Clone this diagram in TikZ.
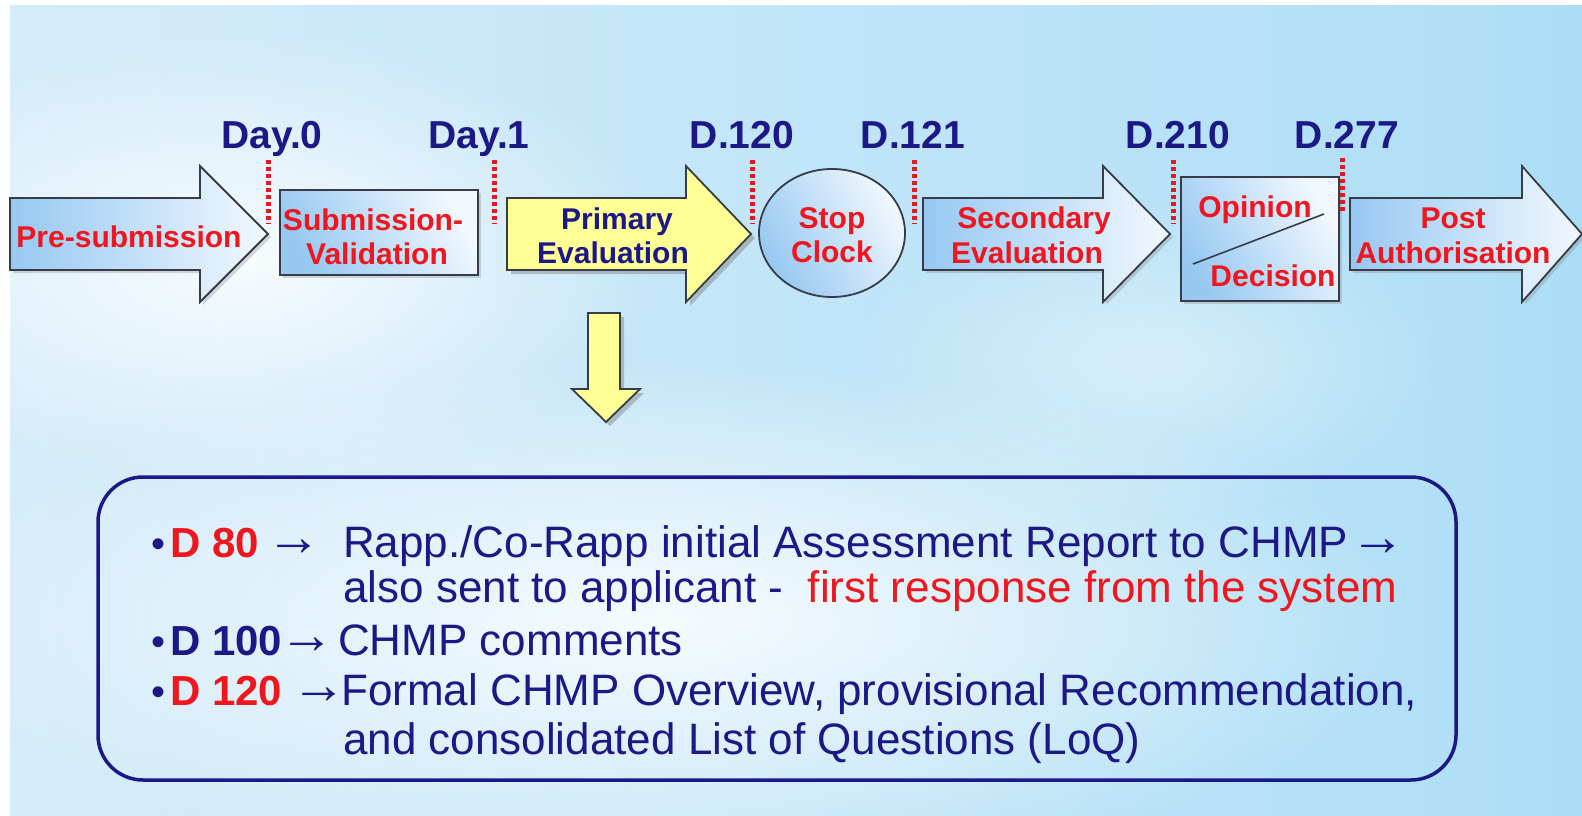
\documentclass[tikz,border=0pt]{standalone}
\usepackage{fontspec}
\setmainfont{Liberation Sans}
\usetikzlibrary{shadows,fadings,shapes.geometric}

\definecolor{navy}{RGB}{28,24,135}
\definecolor{alert}{RGB}{240,22,30}
\definecolor{dotred}{RGB}{230,25,35}
\definecolor{edge}{RGB}{55,60,70}
\definecolor{paleblue}{RGB}{150,200,242}
\definecolor{whiteblue}{RGB}{242,248,254}
\definecolor{lemon}{RGB}{255,255,150}
\definecolor{bgA}{RGB}{232,243,251}
\definecolor{bgB}{RGB}{205,233,249}
\definecolor{bgC}{RGB}{176,223,246}
\definecolor{bgD}{RGB}{115,202,238}

\pgfdeclarehorizontalshading{skyshade}{100bp}{color(0bp)=(bgA); color(35bp)=(bgB); color(72bp)=(bgC); color(100bp)=(bgD)}
\tikzfading[name=haze, inner color=transparent!15, outer color=transparent!100]

% arrow-shaped phase: body from #1 to #2, head from #2 to tip #3
\newcommand\phasearrow[4]{%
  \path[#4] (#1,198) -- (#2,198) -- (#2,166) -- (#3,234) -- (#2,302) -- (#2,270) -- (#1,270) -- cycle;}
% large text arrow used in the bullet list, boxed to its visible width
\newcommand\bigto{\raisebox{2pt}{\hbox to 36pt{\hss\fontsize{55}{60}\selectfont →\hss}}}

\begin{document}
\begin{tikzpicture}[x=1pt,y=-1pt,
  shade phase/.style={draw=edge, line width=1.8pt, line join=miter,
    left color=paleblue, right color=whiteblue,
    drop shadow={shadow xshift=3pt, shadow yshift=-3pt, opacity=0.3}},
  yellow phase/.style={draw=edge, line width=1.8pt, line join=miter, fill=lemon,
    drop shadow={shadow xshift=4pt, shadow yshift=-4pt, opacity=0.45}},
  phasetxt/.style={font=\fontsize{30}{34}\selectfont\bfseries, text=alert, anchor=base, inner sep=0pt},
  navytxt/.style={phasetxt, text=navy},
  daylbl/.style={font=\fontsize{39}{40}\selectfont\bfseries, text=navy, anchor=base, inner sep=0pt},
  tick/.style={dotred, line width=5pt, dash pattern=on 4pt off 3pt},
  body/.style={font=\fontsize{44}{50}\selectfont, text=navy, anchor=base west, inner sep=0pt},
  tag/.style={font=\fontsize{42}{44}\selectfont\bfseries, anchor=base west, inner sep=0pt},
  dot/.style={font=\fontsize{40}{44}\selectfont, text=navy, anchor=base west, inner sep=0pt},
  pointer/.style={text=navy, anchor=base east, inner sep=0pt}
]
\useasboundingbox (0,0) rectangle (1582,816);

% sky background
\fill[white] (0,0) rectangle (1582,816);
\shade[shading=skyshade] (10,6) rectangle (1582,816);
\fill[white, path fading=haze] (660,620) ellipse [x radius=760, y radius=260];
\fill[white, path fading=haze] (240,260) ellipse [x radius=420, y radius=230];
\fill[white, path fading=haze, opacity=0.5] (1150,360) ellipse [x radius=300, y radius=160];

% day markers
\node[daylbl] (d0)   at (272,148)  {Day.0};
\node[daylbl] (d1)   at (479,148)  {Day.1};
\node[daylbl] (d120) at (742,148)  {D.120};
\node[daylbl] (d121) at (913,148)  {D.121};
\node[daylbl] (d210) at (1178,148) {D.210};
\node[daylbl] (d277) at (1347,148) {D.277};

% phases
\phasearrow{10}{200}{268}{shade phase}
\node[draw=edge, line width=1.8pt, left color=paleblue, right color=whiteblue,
  shading angle=120, minimum width=198pt, minimum height=85pt,
  drop shadow={shadow xshift=3pt, shadow yshift=-3pt, opacity=0.3}] (subbox) at (379,232.5) {};
\phasearrow{507}{686}{751}{yellow phase}
\node[ellipse, draw=edge, line width=1.8pt, left color=paleblue, right color=whiteblue,
  shading angle=120, minimum width=146pt, minimum height=128pt, inner sep=0pt] (stop) at (832,233) {};
\phasearrow{923}{1103}{1170}{shade phase}
\node[draw=edge, line width=1.8pt, left color=paleblue, right color=whiteblue,
  shading angle=120, minimum width=158pt, minimum height=124pt,
  drop shadow={shadow xshift=3pt, shadow yshift=-3pt, opacity=0.3}] (opbox) at (1260,239) {};
\draw[edge, line width=1.6pt] (1193,264) -- (1324,214);
\phasearrow{1350}{1522}{1582}{shade phase}

% dotted day ticks
\draw[tick] (268,160) -- (268,224);
\draw[tick] (494,160) -- (494,224);
\draw[tick] (752,160) -- (752,224);
\draw[tick] (914,160) -- (914,224);
\draw[tick] (1173,160) -- (1173,224);
\draw[tick] (1342,158) -- (1342,212);

% phase captions
\node[phasetxt] (pre)   at (129,247)  {Pre-submission};
\node[phasetxt] (sub1)  at (373,230)  {Submission-};
\node[phasetxt] (sub2)  at (377,264)  {Validation};
\node[navytxt]  (pri1)  at (617,229)  {Primary};
\node[navytxt]  (pri2)  at (613,263)  {Evaluation};
\node[phasetxt] (stop1) at (832,228)  {Stop};
\node[phasetxt] (stop2) at (832,262)  {Clock};
\node[phasetxt] (sec1)  at (1034,228) {Secondary};
\node[phasetxt] (sec2)  at (1027,263) {Evaluation};
\node[phasetxt] (op1)   at (1255,217) {Opinion};
\node[phasetxt] (op2)   at (1273,286) {Decision};
\node[phasetxt] (post1) at (1453,228) {Post};
\node[phasetxt] (post2) at (1453,263) {Authorisation};

% down arrow to the detail box
\path[yellow phase] (588,313) -- (620,313) -- (620,389) -- (640,389) -- (606,422)
  -- (572,389) -- (588,389) -- cycle;

% detail box
\draw[navy, line width=3.5pt, rounded corners=45pt] (98,477) rectangle (1456,780);

\node[dot] (b1) at (151,557) {•};
\node[tag, text=alert] (t1) at (170,557) {D 80};
\node[pointer] (a1) at (312,557) {\bigto};
\node[body] (l1) at (343,557) {Rapp./Co-Rapp initial Assessment Report to CHMP \bigto};
\node[body] (l2) at (343,602) {also sent to applicant -~~\textcolor{alert}{first response from the system}};

\node[dot] (b3) at (151,655) {•};
\node[tag, text=navy] (t3) at (170,655) {D 100};
\node[pointer] (a3) at (325,655) {\bigto};
\node[body] (l3) at (338,655) {CHMP comments};

\node[dot] (b4) at (151,705) {•};
\node[tag, text=alert] (t4) at (170,705) {D 120};
\node[pointer] (a4) at (337,705) {\bigto};
\node[body] (l4) at (341,705) {Formal CHMP Overview, provisional Recommendation,};
\node[body] (l5) at (343,754) {and consolidated List of Questions (LoQ)};
\end{tikzpicture}
\end{document}
